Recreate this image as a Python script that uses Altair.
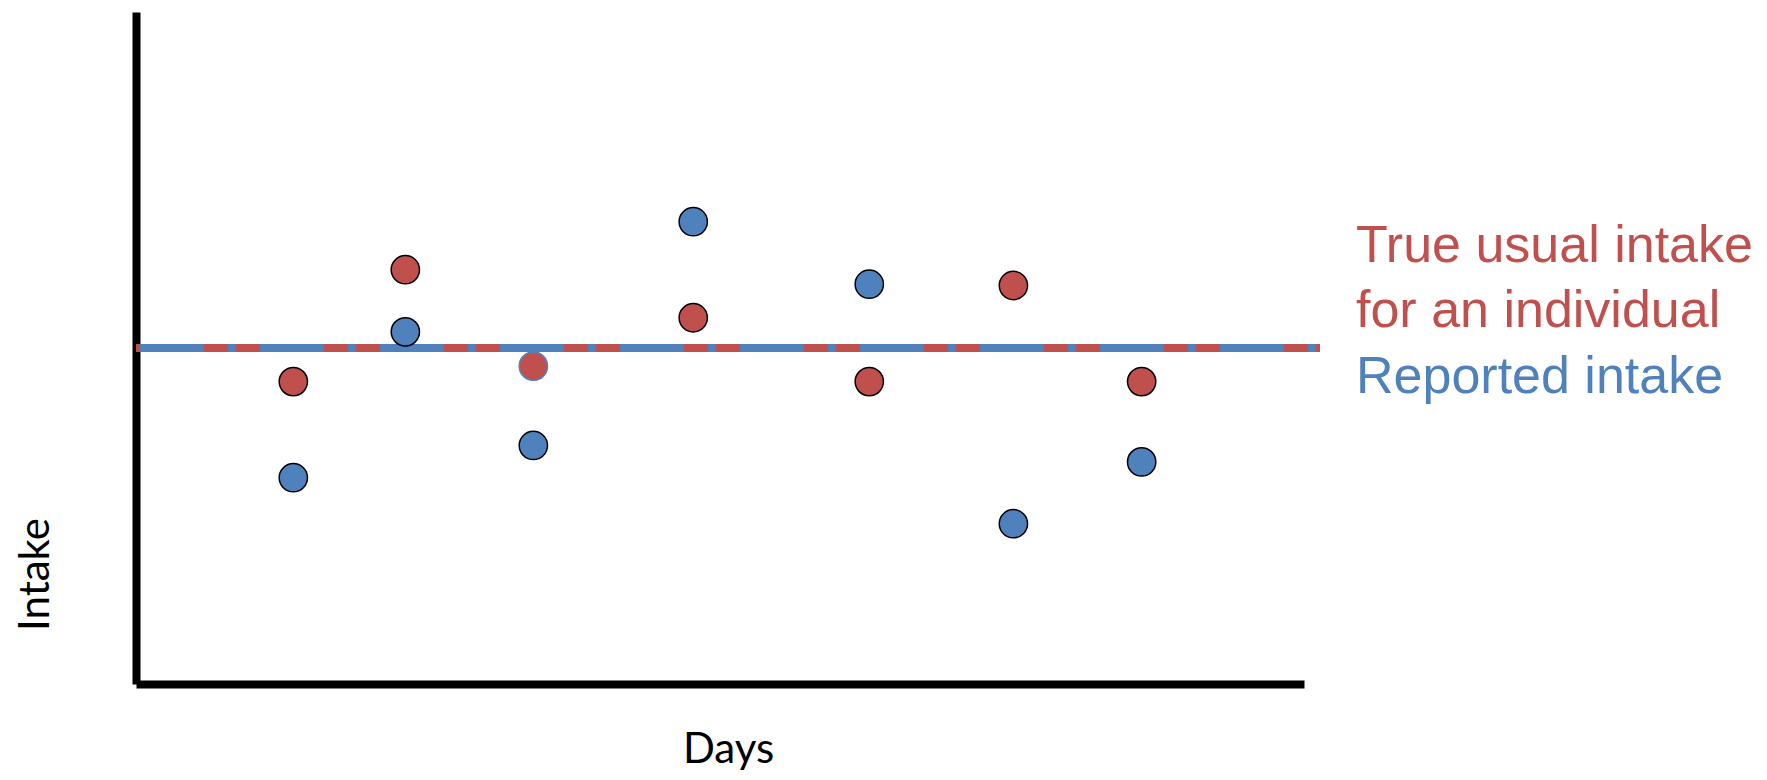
import altair as alt
import pandas as pd

# ---- data ----
days = [1, 2, 3, 4, 5, 6, 7]
day_pos = [1.347, 2.306, 3.402, 4.771, 6.278, 7.512, 8.610]   # position along the Days axis
true_vals = [-1.00, 2.33, -0.54, 0.90, -1.00, 1.86, -1.00]    # red points
reported_vals = [-3.86, 0.48, -2.90, 3.76, 1.90, -5.23, -3.39]  # blue points
usual_level = [0.0]          # level of the horizontal line
line_start = [0.0]
line_end = [10.137]
dash_start = [0.034]
dash_end = [10.103]
legend_lines = ["True usual intake", "for an individual", "Reported intake"]

RED = "#C0504D"
BLUE = "#4F81BD"

rows = []
for d, xp, t, r in zip(days, day_pos, true_vals, reported_vals):
    rows.append({"day": d, "x": xp, "value": t, "series": "True"})
    rows.append({"day": d, "x": xp, "value": r, "series": "Reported"})
pts = pd.DataFrame(rows)

xs = alt.Scale(domain=[0, 10], nice=False, zero=False)
ys = alt.Scale(domain=[-10, 10], nice=False, zero=False)

x_axis = alt.Axis(domain=True, domainColor="black", domainWidth=8, domainCap="butt",
                  ticks=False, labels=False, grid=False,
                  title="Days", titleFont="Lato", titleFontSize=42, titleFontWeight="normal",
                  titleColor="black", titleX=592, titleY=78, titleAlign="center",
                  titleBaseline="alphabetic")
y_axis = alt.Axis(domain=True, domainColor="black", domainWidth=8, domainCap="butt",
                  ticks=False, labels=False, grid=False,
                  title="Intake", titleFont="Lato", titleFontSize=42, titleFontWeight="normal",
                  titleColor="black", titleX=-88, titleY=562, titleAlign="center",
                  titleBaseline="alphabetic", titleAngle=270)

line_df = pd.DataFrame({"y": usual_level, "x1": line_start, "x2": line_end,
                        "d1": dash_start, "d2": dash_end})

red_line = alt.Chart(line_df).mark_rule(color=RED, strokeWidth=8, strokeCap="butt", clip=False).encode(
    x=alt.X("x1:Q", scale=xs, axis=x_axis),
    x2="x2:Q",
    y=alt.Y("y:Q", scale=ys, axis=y_axis),
)
blue_line = alt.Chart(line_df).mark_rule(color=BLUE, strokeWidth=8, strokeCap="butt",
                                         strokeDash=[64, 24, 8, 24], clip=False).encode(
    x=alt.X("d1:Q", scale=xs),
    x2="d2:Q",
    y=alt.Y("y:Q", scale=ys),
)

points = alt.Chart(pts).mark_point(filled=True, shape="circle", size=800, opacity=1,
                                   strokeWidth=1.5, strokeOpacity=1).encode(
    x=alt.X("x:Q", scale=xs),
    y=alt.Y("value:Q", scale=ys),
    fill=alt.Color("series:N", scale=alt.Scale(domain=["True", "Reported"], range=[RED, BLUE]),
                   legend=None),
    stroke=alt.condition("datum.series == 'True' && datum.day == 3",
                         alt.value(BLUE), alt.value("black")),
)

label_colors = [RED, RED, BLUE]
label_y = [250, 314.5, 381]
texts = []
for lab, col, yy in zip(legend_lines, label_colors, label_y):
    texts.append(
        alt.Chart(pd.DataFrame({"label": [lab]})).mark_text(
            align="left", baseline="alphabetic", font="Liberation Sans", fontSize=52,
            color=col, clip=False
        ).encode(x=alt.value(1220), y=alt.value(yy), text="label:N")
    )

chart = alt.layer(red_line, blue_line, points, *texts).properties(
    width=1168, height=672,
    autosize=alt.AutoSizeParams(type="none"),
    padding={"left": 128, "top": 4, "right": 455, "bottom": 88},
    background="white",
).configure_view(strokeWidth=0)

chart.save("out.html", embed_options={"renderer": "svg", "actions": False})
